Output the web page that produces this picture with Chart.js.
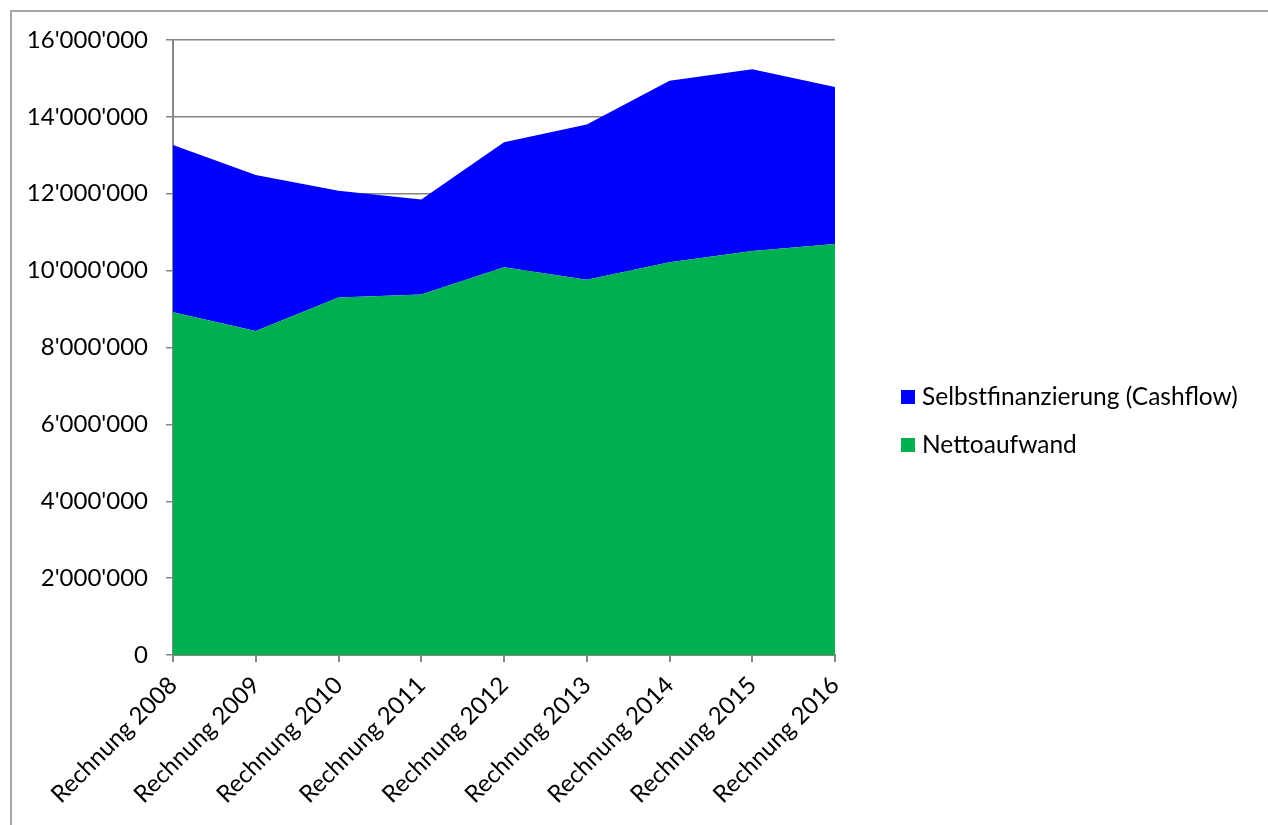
<!DOCTYPE html>
<html>
<head>
<meta charset="utf-8">
<script src="https://cdn.jsdelivr.net/npm/chart.js@4.4.1/dist/chart.umd.min.js"></script>
<style>
  html, body { margin: 0; padding: 0; background: #ffffff; overflow: hidden; }
  #frame { position: absolute; left: 10px; top: 10px; width: 1300px; height: 900px; border: 2px solid #a6a6a6; box-sizing: border-box; }
  #wrap { position: absolute; left: 0; top: 0; width: 1268px; height: 825px; }
</style>
</head>
<body>
<div id="frame"></div>
<div id="wrap"><canvas id="c" width="1268" height="825"></canvas></div>
<script>
const categories = ["Rechnung 2008","Rechnung 2009","Rechnung 2010","Rechnung 2011","Rechnung 2012","Rechnung 2013","Rechnung 2014","Rechnung 2015","Rechnung 2016"];
const nettoaufwand = [8920000, 8430000, 9300000, 9380000, 10090000, 9760000, 10220000, 10510000, 10690000];
const selbstfinanzierung = [4350000, 4060000, 2780000, 2470000, 3250000, 4040000, 4720000, 4730000, 4090000];
const seriesNames = ["Nettoaufwand", "Selbstfinanzierung (Cashflow)"];
const seriesColors = ["#00B050", "#0000FF"];
const yMax = 16000000;
const yStep = 2000000;

const FONT = "Lato, 'Open Sans', sans-serif";

function fmt(v) {
  return String(Math.round(v)).replace(/\B(?=(\d{3})+(?!\d))/g, "'");
}

const legendPlugin = {
  id: 'customLegend',
  afterDraw(chart) {
    const ctx = chart.ctx;
    const area = chart.chartArea;
    const x0 = area.right + 66;
    const items = [1, 0];
    const yStart = 397;
    const gap = 48;
    ctx.save();
    ctx.font = "24.5px " + FONT;
    ctx.textBaseline = 'middle';
    ctx.textAlign = 'left';
    items.forEach((di, i) => {
      const ds = chart.data.datasets[di];
      const y = yStart + i * gap;
      ctx.fillStyle = ds.backgroundColor;
      ctx.fillRect(x0, y - 7, 14, 14);
      ctx.fillStyle = '#000000';
      ctx.fillText(ds.label, x0 + 21, y);
    });
    ctx.restore();
  }
};

new Chart(document.getElementById('c'), {
  type: 'line',
  data: {
    labels: categories,
    datasets: [
      { label: seriesNames[0], data: nettoaufwand, backgroundColor: seriesColors[0], borderColor: seriesColors[0], borderWidth: 0, fill: 'origin', pointRadius: 0, tension: 0 },
      { label: seriesNames[1], data: selbstfinanzierung, backgroundColor: seriesColors[1], borderColor: seriesColors[1], borderWidth: 0, fill: '-1', pointRadius: 0, tension: 0 }
    ]
  },
  options: {
    responsive: false,
    animation: false,
    devicePixelRatio: 1,
    layout: { padding: { left: 0, right: 433, top: 40, bottom: 0 } },
    plugins: { legend: { display: false }, tooltip: { enabled: false } },
    scales: {
      x: {
        offset: false,
        grid: { display: true, drawOnChartArea: false, drawTicks: true, tickLength: 7, color: '#868686', lineWidth: 2 },
        border: { display: true, color: '#868686', width: 2 },
        ticks: { color: '#000000', font: { family: FONT, size: 24 }, maxRotation: 45, minRotation: 45, padding: 9, autoSkip: false },
        afterFit(scale) { scale.height = 170; }
      },
      y: {
        stacked: true,
        min: 0, max: yMax,
        grid: { color: '#868686', lineWidth: 1.5, tickLength: 7 },
        border: { display: true, color: '#868686', width: 2 },
        ticks: { stepSize: yStep, color: '#000000', font: { family: FONT, size: 24 }, padding: 18, callback: (v) => fmt(v) },
        afterFit(scale) { scale.width = 173; }
      }
    }
  },
  plugins: [legendPlugin]
});
</script>
</body>
</html>
